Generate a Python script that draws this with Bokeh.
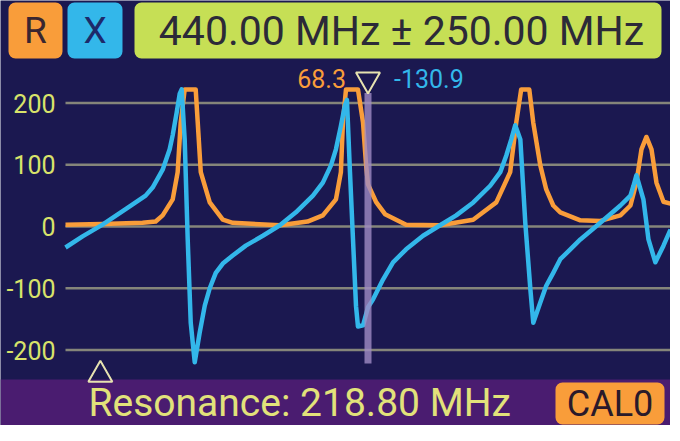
from bokeh.plotting import figure
from bokeh.models import Range1d
from bokeh.core.properties import value
from bokeh.embed import file_html
from bokeh.resources import INLINE

# ---- data ----
center_mhz = 440.0
span_mhz = 250.0
resonance_mhz = 218.8
cursor_r = 68.3
cursor_x = -130.9
y_ticks = [-200, -100, 0, 100, 200]

r_freq = [190.0, 220.6, 253.7, 264.5, 270.3, 278.6, 282.7, 285.2, 288.5, 297.6, 299.3,
          301.8, 309.2, 320.0, 328.2, 367.2, 390.0, 402.7, 413.5, 417.6, 419.3, 421.8,
          431.7, 435.9, 438.4, 440.0, 446.6, 454.1, 471.5, 499.6, 526.9, 546.0, 557.5,
          562.5, 566.6, 573.3, 576.6, 582.4, 587.3, 593.1, 598.9, 615.5, 632.0, 648.6,
          656.9, 661.8, 666.0, 670.1, 674.3, 678.4, 684.2, 690.0]
r_vals = [3, 4, 6, 8, 18, 44, 88, 168, 222, 222, 168,
          88, 39, 11, 6, 2, 8, 18, 44, 88, 170, 222,
          222, 168, 100, 68.3, 40, 20, 3, 2, 11, 39, 88,
          168, 222, 222, 168, 99, 60, 34, 23, 10, 9, 18,
          34, 71, 125, 145, 125, 71, 40, 37]

x_freq = [190.0, 204.1, 220.6, 239.7, 256.2, 262.0, 270.3, 276.1, 278.6, 281.9, 284.4,
          286.0, 288.5, 291.0, 293.5, 296.8, 300.9, 305.1, 309.2, 314.2, 320.0, 328.2,
          339.0, 353.1, 367.2, 380.4, 394.5, 402.7, 409.4, 413.5, 417.6, 420.9, 422.6,
          425.1, 427.6, 430.1, 431.7, 435.9, 440.0, 444.2, 452.4, 460.7, 471.5, 485.5,
          499.6, 512.9, 527.0, 541.0, 549.3, 554.3, 558.4, 561.7, 565.9, 570.0, 574.2,
          576.6, 582.4, 587.3, 593.1, 598.9, 607.2, 615.5, 632.0, 648.6, 656.9, 659.4,
          661.8, 667.6, 671.8, 677.5, 684.2, 690.0]
x_vals = [-34, -16, 3, 28, 50, 63, 92, 125, 148, 185, 215,
          222, 141, -21, -156, -220, -172, -128, -100, -75, -60, -47,
          -31, -15, 2, 23, 50, 71, 99, 125, 163, 196, 205,
          88, -21, -129, -162, -160, -130.9, -118, -86, -58, -37, -15,
          2, 18, 39, 66, 88, 115, 141, 164, 141, 6, -102,
          -156, -123, -96, -75, -53, -37, -21, 6, 34, 50, 66,
          83, 44, -21, -58, -31, -5]

# ---- layout / style ----
NAVY = "#1b1850"
PURPLE = "#4a1c70"
ORANGE = "#f99d3a"
BLUE = "#33b7ea"
LIME = "#c6df55"
TICK_YELLOW = "#d8e36a"
MARK = "#e6e2b0"
FONT = value("Roboto")
W, H = 670, 425
PLOT_LEFT = 65          # px where the sweep starts
ZERO_FROM_TOP = 226     # px from top to the 0 line
PX_PER_UNIT = 0.6175    # vertical px per ohm

f_lo, f_hi = center_mhz - span_mhz, center_mhz + span_mhz
mhz_per_px = (f_hi - f_lo) / (W - PLOT_LEFT)
x_range = Range1d(f_lo - PLOT_LEFT * mhz_per_px, f_hi)
y_range = Range1d(-(H - ZERO_FROM_TOP) / PX_PER_UNIT, ZERO_FROM_TOP / PX_PER_UNIT)

p = figure(width=W, height=H, x_range=x_range, y_range=y_range, output_backend="svg",
           toolbar_location=None, min_border=0, x_axis_location=None, y_axis_location=None)
p.background_fill_color = NAVY
p.border_fill_color = NAVY
p.outline_line_color = None
p.grid.visible = False
p.extra_x_ranges = {"px": Range1d(0, W)}
p.extra_y_ranges = {"px": Range1d(0, H)}
PX = dict(x_range_name="px", y_range_name="px")

# header
p.quad(left=[8, 67, 134], right=[62, 122, 661], bottom=[367] * 3, top=[423] * 3,
       fill_color=[ORANGE, BLUE, LIME], line_color=None, border_radius=7, **PX)
p.text(x=[35, 94.5], y=[395, 395], text=["R", "X"], text_color=["#3a2630", "#1d2a6a"],
       text_font=FONT, text_font_size=value("37px"), text_align="center",
       text_baseline="middle", **PX)
p.text(x=[401], y=[395], text=[f"{center_mhz:.2f} MHz \u00b1 {span_mhz:.2f} MHz"],
       text_color="#2c2a38", text_font=FONT, text_font_size=value("41px"),
       text_align="center", text_baseline="middle", **PX)

# footer
p.quad(left=[0], right=[W], bottom=[0], top=[46], fill_color=PURPLE, line_color=None, **PX)
p.text(x=[88], y=[23], text=[f"Resonance: {resonance_mhz:.2f} MHz"], text_color="#e2e27a",
       text_font=FONT, text_font_size=value("39px"), text_align="left",
       text_baseline="middle", **PX)
p.quad(left=[555], right=[664], bottom=[1], top=[43], fill_color=ORANGE, line_color=None,
       border_radius=7, **PX)
p.text(x=[609.5], y=[22], text=["CAL0"], text_color="#2a1a2a", text_font=FONT,
       text_font_size=value("36px"), text_align="center", text_baseline="middle", **PX)

# grid and tick labels
p.segment(x0=[f_lo] * len(y_ticks), y0=y_ticks, x1=[f_hi] * len(y_ticks), y1=y_ticks,
          line_color="#85857a", line_width=2.5)
p.text(x=[f_lo] * len(y_ticks), y=y_ticks, text=[str(t) for t in y_ticks], x_offset=-10,
       text_color=TICK_YELLOW, text_font=FONT, text_font_size=value("25px"),
       text_align="right", text_baseline="middle")

# traces
p.line(r_freq, r_vals, line_color=ORANGE, line_width=4.5, line_join="round")
p.line(x_freq, x_vals, line_color=BLUE, line_width=4.5, line_join="round")

# cursor and resonance markers
p.segment(x0=[center_mhz], y0=[216], x1=[center_mhz], y1=[-222],
          line_color="#a08cc4", line_width=7, line_alpha=0.8)
p.scatter(x=[center_mhz], y=[238], marker="inverted_triangle", size=24,
          fill_color=None, line_color=MARK, line_width=2)
p.scatter(x=[resonance_mhz], y=[-240], marker="triangle", size=24,
          fill_color=None, line_color=MARK, line_width=2)
p.text(x=[center_mhz], y=[240], text=[f"{cursor_r:.1f}"], x_offset=-22,
       text_color=ORANGE, text_font=FONT, text_font_size=value("25px"),
       text_align="right", text_baseline="middle")
p.text(x=[center_mhz], y=[240], text=[f"{cursor_x:.1f}"], x_offset=26,
       text_color=BLUE, text_font=FONT, text_font_size=value("25px"),
       text_align="left", text_baseline="middle")

open("out.html", "w").write(file_html(p, INLINE))
